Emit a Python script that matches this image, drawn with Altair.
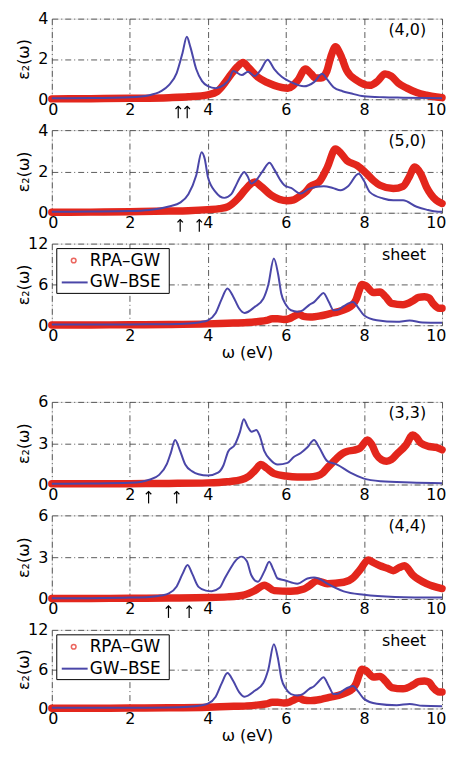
import altair as alt
import pandas as pd

# ---------------- data ----------------
# (4,0)
b40_w = [0, 1, 2, 2.5, 2.8, 3.0, 3.2, 3.35, 3.46, 3.55, 3.7, 3.85, 4.0, 4.2, 4.4, 4.55, 4.65, 4.87, 5.03, 5.2, 5.35, 5.53, 5.7, 5.9, 6.13, 6.46, 6.72, 6.93, 7.05, 7.22, 7.45, 7.65, 8.0, 8.5, 9.0, 10]
b40_v = [0.05, 0.06, 0.1, 0.2, 0.4, 0.7, 1.3, 2.3, 3.1, 2.6, 1.5, 0.9, 0.65, 0.55, 0.7, 1.0, 1.4, 1.2, 1.37, 1.15, 1.45, 1.96, 1.5, 1.1, 0.85, 0.64, 0.85, 1.26, 1.0, 0.6, 0.4, 0.3, 0.15, 0.1, 0.08, 0.05]
r40_w = [0, 1, 2, 3, 3.5, 4.0, 4.25, 4.43, 4.6, 4.75, 4.9, 5.05, 5.28, 5.5, 5.7, 6.05, 6.3, 6.5, 6.65, 6.76, 6.9, 7.05, 7.15, 7.27, 7.4, 7.56, 7.82, 8.15, 8.35, 8.54, 8.7, 8.88, 9.1, 9.35, 9.6, 9.86, 10]
r40_v = [0.02, 0.03, 0.05, 0.08, 0.12, 0.22, 0.4, 0.8, 1.25, 1.6, 1.83, 1.55, 1.1, 0.85, 0.69, 0.55, 0.93, 1.5, 1.25, 1.05, 1.05, 1.4, 2.1, 2.6, 2.2, 1.42, 0.93, 0.69, 0.9, 1.26, 1.15, 0.8, 0.55, 0.33, 0.2, 0.11, 0.08]
a40 = [3.24, 3.47]

# (5,0)
b50_w = [0, 1, 2, 2.5, 3.0, 3.3, 3.5, 3.7, 3.84, 3.92, 4.0, 4.2, 4.42, 4.6, 4.7, 4.85, 4.93, 5.02, 5.11, 5.25, 5.4, 5.58, 5.7, 5.85, 5.96, 6.13, 6.38, 6.6, 6.97, 7.2, 7.4, 7.6, 7.86, 8.0, 8.15, 8.49, 8.75, 9.0, 9.35, 9.6, 9.9, 10]
b50_v = [0.05, 0.06, 0.08, 0.13, 0.3, 0.5, 0.9, 1.8, 2.93, 2.6, 1.73, 1.0, 0.72, 0.9, 1.25, 1.8, 1.97, 1.75, 1.41, 1.6, 2.0, 2.42, 2.1, 1.6, 1.33, 1.2, 0.93, 1.17, 1.28, 1.2, 1.09, 1.3, 1.89, 1.55, 1.0, 0.69, 0.6, 0.6, 0.29, 0.15, 0.05, 0.05]
r50_w = [0, 1, 2, 3, 3.5, 4.0, 4.3, 4.52, 4.77, 4.95, 5.1, 5.2, 5.35, 5.62, 6.04, 6.2, 6.33, 6.5, 6.63, 6.85, 7.06, 7.27, 7.4, 7.56, 7.82, 8.07, 8.25, 8.41, 8.75, 9.0, 9.15, 9.3, 9.45, 9.6, 9.85, 10]
r50_v = [0.02, 0.03, 0.05, 0.08, 0.1, 0.15, 0.2, 0.3, 0.69, 1.1, 1.4, 1.49, 1.3, 0.85, 0.58, 0.62, 0.77, 1.0, 1.28, 1.49, 2.2, 3.09, 2.9, 2.53, 2.29, 1.89, 1.55, 1.33, 1.17, 1.28, 1.7, 2.21, 1.9, 1.25, 0.61, 0.45]
a50 = [3.29, 3.78]

# sheet
bsh_w = [0, 1, 2, 3, 3.5, 3.8, 4.0, 4.2, 4.35, 4.5, 4.65, 4.8, 4.94, 5.2, 5.42, 5.55, 5.69, 5.8, 5.88, 6.0, 6.13, 6.3, 6.43, 6.6, 6.72, 6.85, 6.96, 7.1, 7.22, 7.35, 7.48, 7.6, 7.72, 7.85, 8.0, 8.33, 8.84, 9.17, 9.5, 10]
bsh_v = [0.1, 0.1, 0.12, 0.15, 0.25, 0.45, 0.73, 1.8, 3.8, 5.4, 4.2, 2.5, 1.8, 2.7, 3.9, 6.0, 9.8, 7.5, 4.66, 3.0, 2.2, 2.0, 2.2, 3.0, 3.4, 4.2, 4.75, 3.4, 2.2, 2.3, 2.8, 3.2, 3.43, 2.6, 1.47, 0.73, 0.5, 0.7, 0.4, 0.35]
rsh_w = [0, 1, 2, 3, 4, 4.5, 5.0, 5.3, 5.5, 5.65, 5.79, 5.95, 6.1, 6.2, 6.34, 6.45, 6.63, 6.9, 7.14, 7.35, 7.56, 7.69, 7.8, 7.87, 7.95, 8.05, 8.24, 8.41, 8.55, 8.71, 9.0, 9.26, 9.4, 9.55, 9.67, 9.77, 9.93, 10]
rsh_v = [0.05, 0.05, 0.06, 0.1, 0.2, 0.3, 0.4, 0.55, 0.7, 0.95, 0.95, 0.85, 1.0, 1.3, 1.6, 1.3, 1.2, 1.4, 1.72, 2.0, 2.45, 2.9, 3.8, 5.0, 6.0, 5.8, 4.8, 4.9, 4.2, 3.2, 3.0, 3.6, 4.1, 4.2, 4.0, 3.2, 2.5, 2.5]

# (3,3)
b33_w = [0, 1, 2, 2.3, 2.5, 2.75, 2.95, 3.05, 3.16, 3.28, 3.42, 3.6, 3.76, 4.0, 4.26, 4.4, 4.52, 4.69, 4.82, 4.92, 5.02, 5.12, 5.24, 5.32, 5.45, 5.6, 5.79, 6.04, 6.2, 6.38, 6.55, 6.72, 6.85, 7.06, 7.31, 7.65, 8.0, 8.43, 9.2, 10]
b33_v = [0.05, 0.07, 0.12, 0.2, 0.35, 0.7, 1.5, 2.3, 3.24, 2.5, 1.45, 0.95, 0.74, 0.65, 0.86, 1.4, 2.4, 2.88, 3.8, 4.74, 4.2, 3.83, 3.95, 3.6, 2.4, 1.8, 1.45, 1.57, 2.0, 2.29, 2.7, 3.24, 2.7, 1.7, 1.45, 0.86, 0.43, 0.24, 0.15, 0.1]
r33_w = [0, 1, 2, 3, 4, 4.5, 4.86, 5.05, 5.2, 5.36, 5.5, 5.7, 6.0, 6.29, 6.6, 6.8, 6.95, 7.06, 7.2, 7.31, 7.45, 7.56, 7.75, 7.9, 8.09, 8.2, 8.32, 8.45, 8.58, 8.7, 8.83, 9.08, 9.25, 9.35, 9.46, 9.67, 9.85, 10]
r33_v = [0.05, 0.05, 0.06, 0.08, 0.12, 0.2, 0.35, 0.6, 1.0, 1.45, 1.2, 0.79, 0.62, 0.55, 0.55, 0.62, 0.85, 1.21, 1.6, 1.93, 2.25, 2.4, 2.5, 2.64, 3.24, 2.9, 2.17, 1.8, 1.69, 1.8, 2.17, 2.88, 3.6, 3.4, 3.0, 2.76, 2.7, 2.52]
a33 = [2.48, 3.2]

# (4,4)
b44_w = [0, 1, 2, 2.5, 2.8, 3.0, 3.2, 3.35, 3.48, 3.6, 3.76, 3.95, 4.1, 4.3, 4.43, 4.6, 4.69, 4.86, 5.0, 5.11, 5.28, 5.45, 5.57, 5.68, 5.79, 5.96, 6.29, 6.55, 6.72, 6.85, 7.06, 7.48, 8.0, 8.8, 10]
b44_v = [0.05, 0.06, 0.1, 0.15, 0.25, 0.4, 0.9, 1.8, 2.44, 1.8, 0.87, 0.6, 0.56, 0.8, 1.47, 2.3, 2.68, 3.04, 2.7, 1.72, 1.23, 2.0, 2.68, 2.1, 1.47, 1.35, 1.1, 1.47, 1.55, 1.45, 1.1, 0.55, 0.3, 0.15, 0.1]
r44_w = [0, 1, 2, 3, 4, 4.5, 4.94, 5.2, 5.45, 5.7, 6.12, 6.46, 6.6, 6.8, 7.06, 7.48, 7.73, 7.9, 8.11, 8.25, 8.41, 8.6, 8.75, 8.9, 9.04, 9.25, 9.6, 10]
r44_v = [0.03, 0.04, 0.05, 0.07, 0.1, 0.15, 0.3, 0.6, 0.99, 0.6, 0.55, 0.72, 0.95, 1.3, 1.1, 1.2, 1.54, 2.1, 2.8, 2.6, 2.39, 2.2, 2.03, 2.25, 2.39, 1.72, 1.1, 0.75]
a44 = [2.99, 3.52]

x_ticks = [0, 2, 4, 6, 8, 10]
legend_labels = ["RPA\u2013GW", "GW\u2013BSE"]

# ---------------- styling ----------------
RED = "#e3261c"
BLUE = "#4a46a8"
FONT = "DejaVu Sans"
W = 392
GRID_DASH = [6, 3, 1, 3]
CHEVRON = "M -1 1 L 0 0 L 1 1"


def panel(bw, bv, rw, rv, ymax, label, H, arrows=None, xtitle=False, legend=False):
    xs = alt.Scale(domain=[0, 10], nice=False, zero=False)
    ys = alt.Scale(domain=[0, ymax], nice=False)
    xax = alt.Axis(values=x_ticks, format="d", grid=True, gridDash=GRID_DASH, gridColor="#333",
                   gridWidth=0.8, domain=False, ticks=False, labelFont=FONT, labelFontSize=16,
                   labelColor="black", labelPadding=2, labelFlush=True, labelFlushOffset=4,
                   title="\u03c9 (eV)" if xtitle else None, titleFont=FONT, titleFontSize=16,
                   titleFontWeight="normal", titleColor="black", titlePadding=1)
    yax = alt.Axis(values=[0, ymax / 2, ymax], format="d", grid=True, gridDash=GRID_DASH,
                   gridColor="#333", gridWidth=0.8, domain=False, ticks=False, labelFont=FONT,
                   labelFontSize=16, labelColor="black", labelPadding=4, labelFlush=False,
                   title="\u03b5\u2082(\u03c9)", titleFont=FONT, titleFontSize=16,
                   titleFontWeight="normal", titleColor="black", titleX=-20, titleY=H / 2)
    X = alt.X("w:Q", scale=xs, axis=xax)
    Y = alt.Y("e:Q", scale=ys, axis=yax)
    red = alt.Chart(pd.DataFrame({"w": rw, "e": rv})).mark_line(
        color=RED, strokeWidth=7.5, strokeCap="round", strokeJoin="round", interpolate="monotone"
    ).encode(x=X, y=Y)
    blue = alt.Chart(pd.DataFrame({"w": bw, "e": bv})).mark_line(
        color=BLUE, strokeWidth=2, interpolate="monotone"
    ).encode(x=X, y=Y)
    lab = alt.Chart(pd.DataFrame({"t": [label]})).mark_text(
        align="right", baseline="middle", fontSize=16, font=FONT, color="black"
    ).encode(x=alt.value(W - 16), y=alt.value(11), text="t:N")
    layers = [red, blue, lab]
    if arrows:
        adf = pd.DataFrame({"w": arrows})
        shaft = alt.Chart(adf).mark_rule(color="black", strokeWidth=1.2).encode(
            x=X, y=alt.value(H + 7), y2=alt.value(H + 19))
        head = alt.Chart(adf).mark_point(shape=CHEVRON, filled=False, color="black", size=30,
                                         strokeWidth=1.2, opacity=1).encode(
            x=X, y=alt.value(H + 7))
        layers += [shaft, head]
    if legend:
        one = pd.DataFrame({"a": [0]})
        box = alt.Chart(one).mark_rect(fill="white", stroke="black", strokeWidth=1).encode(
            x=alt.value(5), x2=alt.value(118), y=alt.value(5), y2=alt.value(50))
        circ = alt.Chart(one).mark_point(shape="circle", filled=False, color=RED, size=22,
                                         strokeWidth=1.5).encode(x=alt.value(22), y=alt.value(17))
        seg = alt.Chart(one).mark_rule(color=BLUE, strokeWidth=2).encode(
            x=alt.value(10), x2=alt.value(36), y=alt.value(39))
        t = alt.Chart(pd.DataFrame({"t": legend_labels, "yy": [17, 39]})).mark_text(
            align="left", baseline="middle", fontSize=17, font=FONT, color="black"
        ).encode(x=alt.value(38), y=alt.Y("yy:Q", scale=None), text="t:N")
        layers += [box, circ, seg, t]
    return alt.layer(*layers).properties(width=W, height=H)


p1 = panel(b40_w, b40_v, r40_w, r40_v, 4, "(4,0)", 81, a40)
p2 = panel(b50_w, b50_v, r50_w, r50_v, 4, "(5,0)", 83, a50)
p3 = panel(bsh_w, bsh_v, rsh_w, rsh_v, 12, "sheet", 82, None, xtitle=True, legend=True)
p4 = panel(b33_w, b33_v, r33_w, r33_v, 6, "(3,3)", 83, a33)
p5 = panel(b44_w, b44_v, r44_w, r44_v, 6, "(4,4)", 84, a44)
p6 = panel(bsh_w, bsh_v, rsh_w, rsh_v, 12, "sheet", 79, None, xtitle=True, legend=True)

spacer = alt.Chart(pd.DataFrame({"a": [0]})).mark_point(opacity=0).encode(
    x=alt.X("a:Q", axis=None), y=alt.Y("a:Q", axis=None)
).properties(width=W, height=15, view=alt.ViewBackground(strokeOpacity=0))

chart = alt.vconcat(p1, p2, p3, spacer, p4, p5, p6, spacing=31, bounds="flush").properties(
    padding={"left": 7, "top": 0, "right": 0, "bottom": 0}
).configure_view(stroke="#555", strokeWidth=1).configure(background="white")

chart.save("out.html", embed_options={"renderer": "svg", "actions": False})
